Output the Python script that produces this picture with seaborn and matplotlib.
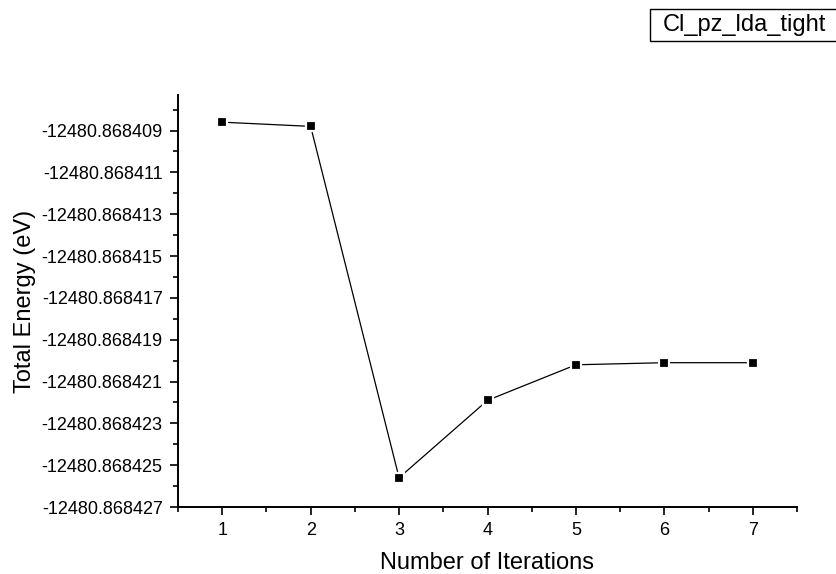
import matplotlib
matplotlib.use("Agg")
import matplotlib.pyplot as plt
import seaborn as sns
import pandas as pd
from matplotlib.ticker import FixedLocator, FuncFormatter, AutoMinorLocator, MultipleLocator
from matplotlib.patches import Rectangle

iterations = [1, 2, 3, 4, 5, 6, 7]
energies = [-12480.8684086, -12480.8684088, -12480.8684256, -12480.8684219,
            -12480.8684202, -12480.8684201, -12480.8684201]
y_ticks = [-12480.868409, -12480.868411, -12480.868413, -12480.868415, -12480.868417,
           -12480.868419, -12480.868421, -12480.868423, -12480.868425, -12480.868427]
x_ticks = [1, 2, 3, 4, 5, 6, 7]
series_name = "Cl_pz_lda_tight"
x_label = "Number of Iterations"
y_label = "Total Energy (eV)"

sns.set_style("ticks")
plt.rcParams['font.family'] = ['Liberation Sans', 'DejaVu Sans']
plt.rcParams['text.color'] = 'black'
plt.rcParams['axes.labelcolor'] = 'black'

df = pd.DataFrame({"it": iterations, "E": energies})

fig = plt.figure(figsize=(8.37, 5.74), dpi=100)
ax = fig.add_axes([178/837, 1 - 507/574, (797 - 178)/837, (507 - 95)/574])

sns.lineplot(data=df, x="it", y="E", ax=ax, color="black", linewidth=0.9,
             marker="s", markersize=7.5, markerfacecolor="black",
             markeredgecolor="white", markeredgewidth=1.6)

ax.set_xlim(0.5, 7.5)
ax.set_ylim(-12480.868427, -12480.8684073)
ax.xaxis.set_major_locator(FixedLocator(x_ticks))
ax.xaxis.set_minor_locator(MultipleLocator(0.5))
ax.yaxis.set_major_locator(FixedLocator(y_ticks))
ax.yaxis.set_minor_locator(AutoMinorLocator(2))
ax.yaxis.set_major_formatter(FuncFormatter(lambda v, p: f"{v:.6f}"))
ax.xaxis.set_major_formatter(FuncFormatter(lambda v, p: f"{int(round(v))}"))

for s in ["top", "right"]:
    ax.spines[s].set_visible(False)
for s in ["left", "bottom"]:
    ax.spines[s].set_linewidth(1.4)
    ax.spines[s].set_color("black")

ax.tick_params(axis="both", which="major", direction="out", length=6, width=1.2,
               labelsize=13, colors="black", pad=5)
ax.tick_params(axis="both", which="minor", direction="out", length=3.5, width=1.2,
               colors="black")

ax.set_xlabel(x_label, fontsize=17, labelpad=9)
ax.set_ylabel(y_label, fontsize=17, labelpad=4)

# legend box (Origin style)
rect = Rectangle((650/837, 1 - 41/574), 200/837, 32/574, transform=fig.transFigure,
                 fill=False, edgecolor="black", linewidth=1.0, clip_on=False)
fig.patches.append(rect)
fig.text(663/837, 1 - 25/574, series_name, fontsize=17, ha="left", va="center")

fig.savefig("out.png", dpi=100)
